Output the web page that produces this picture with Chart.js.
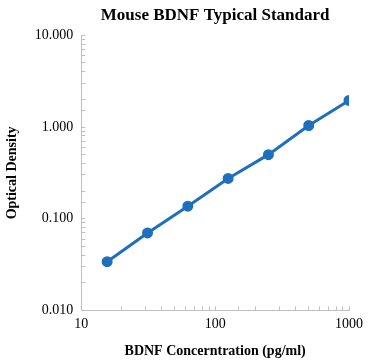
<!DOCTYPE html>
<html>
<head>
<meta charset="utf-8">
<script src="https://cdn.jsdelivr.net/npm/chart.js@4"></script>
<style>
  body { margin: 0; background: #fff; }
  #wrap { width: 373px; height: 360px; }
</style>
</head>
<body>
<div id="wrap"><canvas id="bdnfChart"></canvas></div>
<script>
// 표준 곡선 데이터
const concentrations = [15.6, 31.25, 62.5, 125, 250, 500, 1000];
const opticalDensity = [0.034, 0.070, 0.137, 0.275, 0.50, 1.04, 1.95];
const xTickLabels = [10, 100, 1000];
const yTickLabels = [0.01, 0.1, 1, 10];

const lineColor = '#1f6fbf';
const axisColor = '#bfbfbf';
const serif = "'Liberation Serif', 'DejaVu Serif', serif";

const isMajor = (v, list) => list.some(t => Math.abs(t - v) / t < 1e-6);

const ctx = document.getElementById('bdnfChart').getContext('2d');
new Chart(ctx, {
    type: 'line',
    data: {
        datasets: [{
            label: 'OD',
            data: concentrations.map((c, i) => ({ x: c, y: opticalDensity[i] })),
            borderColor: lineColor,
            backgroundColor: lineColor,
            borderWidth: 3,
            pointRadius: 4,
            pointHoverRadius: 4,
            tension: 0,
            fill: false
        }]
    },
    options: {
        responsive: true,
        maintainAspectRatio: false,
        animation: false,
        layout: { padding: { top: 3, right: 1, bottom: 0, left: 4 } },
        scales: {
            x: {
                type: 'logarithmic',
                min: 10,
                max: 1000,
                border: { color: axisColor, width: 1 },
                grid: { drawOnChartArea: false, tickLength: -4, color: axisColor },
                ticks: {
                    autoSkip: false,
                    maxRotation: 0,
                    padding: 10,
                    color: '#000',
                    font: { family: serif, size: 14 },
                    callback: v => isMajor(v, xTickLabels) ? String(v) : ''
                },
                title: {
                    display: true,
                    text: 'BDNF Concerntration (pg/ml)',
                    color: '#000',
                    font: { family: serif, size: 14, weight: 'bold' },
                    padding: { top: 0, bottom: 0 }
                }
            },
            y: {
                type: 'logarithmic',
                min: 0.01,
                max: 10,
                border: { color: axisColor, width: 1 },
                grid: { drawOnChartArea: false, tickLength: -4, color: axisColor },
                ticks: {
                    autoSkip: false,
                    padding: 12,
                    color: '#000',
                    font: { family: serif, size: 14 },
                    callback: v => isMajor(v, yTickLabels) ? Number(v).toFixed(3) : ''
                },
                title: {
                    display: true,
                    text: 'Optical Density',
                    color: '#000',
                    font: { family: serif, size: 14, weight: 'bold' },
                    padding: { top: 0, bottom: 2 }
                }
            }
        },
        plugins: {
            legend: { display: false },
            tooltip: { enabled: false },
            title: {
                display: true,
                fullSize: false,
                text: 'Mouse BDNF Typical Standard',
                color: '#000',
                font: { family: serif, size: 17, weight: 'bold' },
                padding: { top: 2, bottom: 10 }
            }
        }
    }
});
</script>
</body>
</html>
